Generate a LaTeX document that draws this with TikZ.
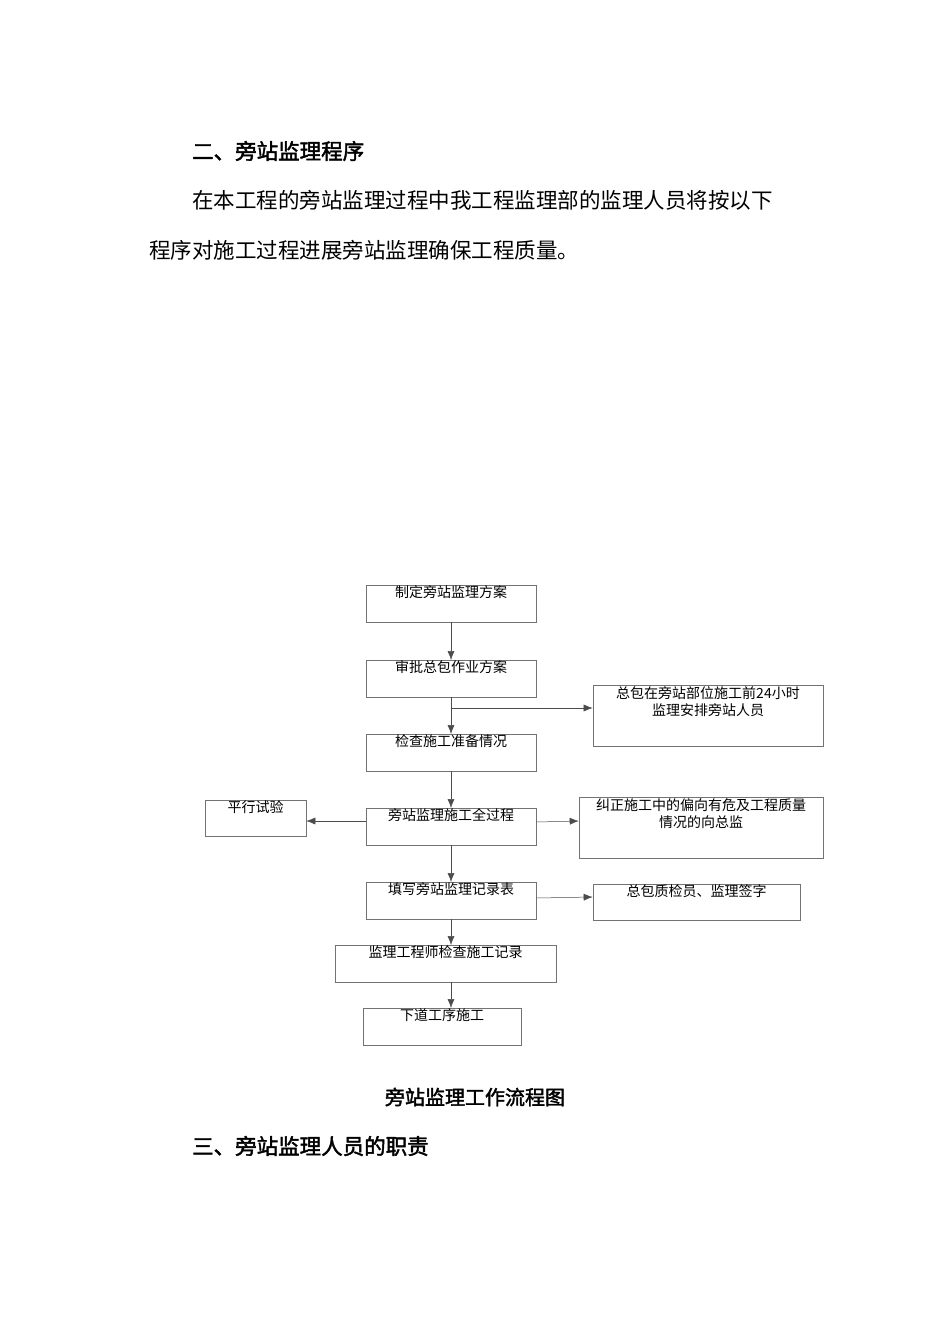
\documentclass[tikz,border=0pt]{standalone}
\usepackage{fontspec}
\newfontfamily\cjk{Noto Sans CJK SC}
\newfontfamily\cjkb{Noto Sans CJK SC}[FakeBold=2]
\usetikzlibrary{arrows.meta}
\begin{document}
\begin{tikzpicture}[x=1pt,y=-1pt,
 bx/.style={draw=black!55,line width=0.6pt,minimum height=37pt,inner sep=0pt,font=\cjk\fontsize{14}{17}\selectfont,text depth=0pt,align=center},
 ar/.style={-{Latex[length=9pt,width=7pt]},line width=0.5pt, draw=black!70},
 tx/.style={anchor=west,inner sep=0pt,font=\cjk\fontsize{21.5}{26}\selectfont},
 hd/.style={anchor=west,inner sep=0pt,font=\cjkb\fontsize{21.5}{26}\selectfont}]
\useasboundingbox (0,0) rectangle (950,1344);
\fill[white] (0,0) rectangle (950,1344);
\node[hd] (h1) at (192,151) {二、旁站监理程序};
\node[tx] (p1) at (192,200) {在本工程的旁站监理过程中我工程监理部的监理人员将按以下};
\node[tx] (p2) at (149,250) {程序对施工过程进展旁站监理确保工程质量。};
\node[bx,minimum width=170pt] (b1) at (451,603.5) {制定旁站监理方案\\[6pt]};
\node[bx,minimum width=170pt] (b2) at (451,678.5) {审批总包作业方案\\[6pt]};
\node[bx,minimum width=230pt,minimum height=61pt] (b3) at (708,715.5) {总包在旁站部位施工前24小时\\监理安排旁站人员\\[12pt]};
\node[bx,minimum width=170pt] (b4) at (451,752.5) {检查施工准备情况\\[6pt]};
\node[bx,minimum width=101pt,minimum height=36pt] (b5) at (255.5,818) {平行试验\\[6pt]};
\node[bx,minimum width=170pt] (b6) at (451,826.5) {旁站监理施工全过程\\[6pt]};
\node[bx,minimum width=244pt,minimum height=61pt] (b7) at (701,827.5) {纠正施工中的偏向有危及工程质量\\情况的向总监\\[12pt]};
\node[bx,minimum width=170pt] (b8) at (451,900.5) {填写旁站监理记录表\\[6pt]};
\node[bx,minimum width=207pt,minimum height=36pt] (b9) at (696.5,902) {总包质检员、监理签字\\[6pt]};
\node[bx,minimum width=221pt] (b10) at (445.5,963.5) {监理工程师检查施工记录\\[6pt]};
\node[bx,minimum width=158pt] (b11) at (442,1026.5) {下道工序施工\\[6pt]};
\draw[ar] (451,622) -- (451,660);
\draw[ar] (451,697) -- (451,734);
\coordinate (j1) at (451,708);
\draw[ar] (j1) -- (b3.west|-j1);
\draw[ar] (451,771) -- (451,808);
\draw[ar] (b6.west|-0,821) -- (b5.east|-0,821);
\draw[ar] (b6.east|-0,822) -- (b7.west|-0,821);
\draw[ar] (451,845) -- (451,882);
\draw[ar] (b8.east|-0,898) -- (b9.west|-0,897);
\draw[ar] (451,919) -- (451,945);
\draw[ar] (451,982) -- (451,1008);
\node[inner sep=0pt,font=\cjkb\fontsize{20}{24}\selectfont] (cap) at (475,1097) {旁站监理工作流程图};
\node[hd] (h2) at (192,1146) {三、旁站监理人员的职责};
\end{tikzpicture}
\end{document}
